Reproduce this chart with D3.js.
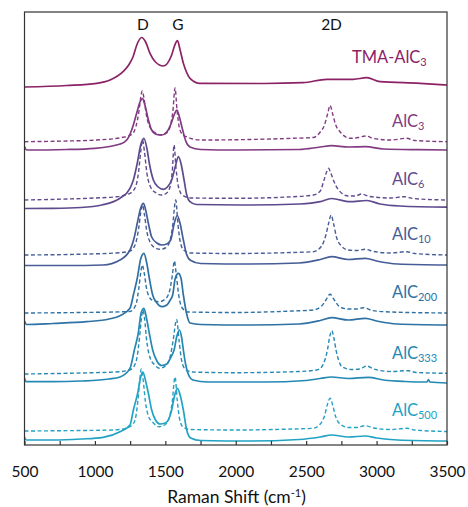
<!DOCTYPE html>
<html>
<head>
<meta charset="utf-8">
<script src="https://cdn.jsdelivr.net/npm/d3@7"></script>
<style>
  body { margin: 0; background: #fff; }
  svg { display: block; font-family: Lato, "Open Sans", sans-serif; }
</style>
</head>
<body>
<svg width="468" height="507"></svg>
<script>
// sample names (main part + subscript)
const sampleMain = ["TMA-AlC", "AlC", "AlC", "AlC", "AlC", "AlC", "AlC"];
const sampleSub = ["3", "3", "6", "10", "200", "333", "500"];
const sampleColors = ["#8c2266", "#823b82", "#5f4a8e", "#465d97", "#2e72a5", "#2589b4", "#22a2c4"];

// stacking offsets (a.u.)
const solidOffset = [357, 295, 236, 179, 120, 62, 4];
const dashedOffset = [null, 303, 245, 190, 132, 71, 14];

// peak labels
const peakNames = ["D", "G", "2D"];
const peakPos = [1340, 1590, 2680];

const xTicks = [500, 750, 1000, 1250, 1500, 1750, 2000, 2250, 2500, 2750, 3000, 3250, 3500];

// solid spectra [Raman shift, intensity]
const solidTMA = [[500,1],[800,2.5],[1013,4.7],[1107,8],[1200,16.3],[1240,23],[1271,31.3],[1300,44],[1332,50.5],[1360,46],
  [1391,34.7],[1430,26],[1486,22],[1545,33],[1565,42],[1586,47.3],[1605,38],[1628,24.7],[1650,16],[1675,9.7],[1746,4.7],
  [2200,4.5],[2478,5.3],[2646,8.7],[2834,8.7],[2930,10.3],[3025,6.3],[3309,4.7],[3500,3]];
const solidAlC3 = [[500,3.5],[515,0],[800,0.5],[1000,1.7],[1180,6],[1226,10],[1261,20],[1297,37],[1320,48],[1338,51.5],
  [1355,45],[1380,30],[1403,20],[1440,15.5],[1474,15],[1510,18],[1540,26],[1565,36],[1582,40],[1600,33],[1623,20],
  [1645,9],[1675,3],[1750,0.5],[2000,0],[2450,0.5],[2600,3],[2680,4.3],[2800,3],[2923,3.3],[3050,1],[3300,0.3],[3500,0]];
const solidAlC6 = [[500,0.5],[700,0.7],[900,1.5],[1050,4],[1178,10.7],[1249,20.7],[1273,29],[1301,46],[1325,64],[1348,70.7],
  [1370,60],[1386,46],[1415,29],[1450,22],[1485,19.7],[1515,22],[1545,29],[1570,42],[1593,52.3],[1612,45],[1633,29],
  [1652,14],[1675,7.3],[1720,4.5],[2100,4],[2456,5],[2600,7.3],[2680,10.5],[2812,7.3],[2930,8.5],[3024,5],[3166,3],[3500,1.8]];
const solidAlC10 = [[500,0.5],[800,0.5],[1058,1],[1178,6],[1249,16],[1280,29],[1301,43],[1325,58],[1345,62.7],[1362,55],
  [1379,43],[1403,29],[1440,23],[1475,21],[1510,22],[1538,26],[1564,43],[1585,50.5],[1604,43],[1628,26],[1650,12],
  [1675,6],[1750,2.5],[2100,2],[2450,3],[2600,6.5],[2680,9.3],[2800,6.5],[2920,7.7],[3000,5],[3150,2],[3500,1]];
const solidAlC200 = [[500,4],[515,0.5],[700,1.5],[941,3.3],[1100,6],[1178,9.3],[1249,16.7],[1273,30],[1301,47],[1325,66],
  [1348,71.7],[1368,62],[1386,47],[1410,30],[1440,22],[1475,18.3],[1510,20],[1535,25],[1552,30],[1571,47],[1593,51.7],
  [1611,47],[1628,30],[1650,12],[1675,2],[1750,0.5],[2100,0],[2450,1],[2600,4.5],[2680,7.3],[2800,5],[2920,6.7],
  [3000,4],[3150,1],[3500,0]];
const solidAlC333 = [[500,5],[512,1.3],[700,1.3],[900,2],[1100,4],[1178,6],[1249,14.7],[1280,33],[1308,50],[1328,70],
  [1348,74.7],[1366,65],[1386,50],[1410,33],[1440,22],[1475,17.5],[1510,19],[1540,26],[1562,33],[1582,47],[1600,53],
  [1615,46],[1628,33],[1645,18],[1665,8],[1696,3],[1800,1],[2200,1],[2500,2.5],[2600,4.5],[2680,6],[2800,4.5],
  [2940,5.7],[3050,3],[3200,1.5],[3358,1],[3368,3.5],[3378,1],[3500,0]];
const solidAlC500 = [[500,4],[512,1],[700,1],[900,2],[1058,3.7],[1178,9.3],[1249,16],[1273,31],[1304,48],[1325,64],
  [1341,69],[1360,60],[1379,48],[1403,31],[1430,21],[1462,17],[1500,18],[1525,22],[1545,31],[1565,45],[1586,52.7],
  [1605,46],[1628,31],[1650,12],[1680,3],[1750,0.5],[2100,0],[2450,1.5],[2600,4],[2680,6],[2800,4],[2920,5],
  [3000,3],[3150,1],[3500,0]];

// dashed spectra [Raman shift, intensity]
const dashedAlC3 = [[500,0.3],[800,1],[1013,2],[1200,4.7],[1265,8],[1290,15],[1312,30],[1326,45],[1336,51],[1348,44],
  [1364,28],[1390,15],[1430,9],[1474,7],[1510,9],[1535,16],[1553,30],[1569,54],[1583,32],[1600,14],[1625,7],[1650,5.3],
  [1746,2],[2100,2.5],[2405,3.7],[2550,4.5],[2600,10],[2630,17],[2652,28],[2670,36.5],[2688,28],[2710,17],[2742,10],
  [2813,3.7],[2870,4.5],[2923,6],[2980,3.5],[3100,2],[3214,3.7],[3270,1.5],[3500,0.3]];
const dashedAlC6 = [[500,0],[800,1],[1000,2],[1155,3.3],[1249,6.7],[1285,12],[1310,28],[1325,48],[1338,60],[1352,48],
  [1368,28],[1395,13],[1435,7],[1474,5],[1510,7],[1535,14],[1550,30],[1562,55],[1575,33],[1592,14],[1620,5],[1680,2],
  [2000,1.7],[2409,3.3],[2551,5],[2600,9],[2627,20],[2645,28],[2658,31.7],[2675,27],[2693,20],[2730,10],[2800,4],
  [2850,4],[2894,6],[2950,3.5],[3100,2],[3195,3.3],[3260,1.5],[3500,0]];
const dashedAlC10 = [[500,0],[900,0.8],[1178,2.3],[1249,4],[1285,10],[1310,26],[1325,42],[1338,50],[1352,40],[1368,24],
  [1395,12],[1430,7],[1462,5.7],[1500,7],[1530,13],[1550,27],[1574,55],[1590,30],[1605,14],[1630,5],[1680,2],[2000,1.5],
  [2400,2.5],[2549,3.3],[2610,9],[2640,20],[2660,32],[2677,40],[2695,31],[2715,18],[2750,9],[2800,5],[2860,4.5],
  [2918,5.7],[2980,3.5],[3100,2],[3214,3.3],[3270,1.5],[3500,0]];
const dashedAlC200 = [[500,0],[900,0.5],[1249,1.5],[1290,8],[1312,25],[1325,40],[1336,48],[1350,40],[1366,25],[1390,15],
  [1420,12],[1456,11.3],[1500,14],[1530,22],[1550,38],[1564,52],[1578,38],[1595,18],[1620,5],[1660,1],[2000,0.5],
  [2400,2],[2550,3],[2610,7],[2640,13],[2670,18.7],[2700,13],[2740,6],[2800,4],[2860,4],[2906,5.3],[2970,2.5],
  [3100,1],[3500,0]];
const dashedAlC333 = [[500,0],[900,1],[1178,2.3],[1260,5],[1295,14],[1318,38],[1332,58],[1341,64],[1352,56],[1368,33],
  [1390,17],[1425,9],[1462,5.7],[1500,8],[1530,15],[1555,33],[1580,54.5],[1598,33],[1615,14],[1640,5],[1690,2],
  [2000,1.3],[2450,2.5],[2575,4],[2611,7.3],[2635,15],[2651,24],[2668,38],[2682,43.3],[2697,36],[2712,24],[2730,14],
  [2753,7.3],[2820,4.5],[2880,5],[2930,8],[2980,5],[3100,2.5],[3223,3.3],[3280,1.5],[3500,0.7]];
const dashedAlC500 = [[500,0],[900,0.5],[1129,1],[1230,3],[1280,9],[1305,30],[1318,50],[1329,62],[1342,52],[1358,30],
  [1380,15],[1415,8],[1456,4.3],[1495,6],[1525,12],[1548,28],[1569,54],[1585,30],[1600,13],[1625,4],[1680,1.5],
  [2000,1],[2400,2],[2549,2.7],[2600,7],[2630,15],[2652,27],[2670,32.7],[2688,26],[2708,15],[2740,7],[2800,3.5],
  [2860,3.5],[2918,5.3],[2980,3],[3100,1.5],[3214,2.7],[3270,1],[3500,-0.5]];

const solidSpectra = [solidTMA, solidAlC3, solidAlC6, solidAlC10, solidAlC200, solidAlC333, solidAlC500];
const dashedSpectra = [null, dashedAlC3, dashedAlC6, dashedAlC10, dashedAlC200, dashedAlC333, dashedAlC500];

const svg = d3.select("svg");
const width = 468, height = 507;
const margin = {top: 12, right: 21, bottom: 62, left: 24.5};

const x = d3.scaleLinear().domain([500, 3500]).range([margin.left, width - margin.right]);
const y = d3.scaleLinear().domain([0, 433]).range([height - margin.bottom, margin.top]);

svg.append("clipPath").attr("id", "plotclip")
  .append("rect")
  .attr("x", margin.left).attr("y", margin.top)
  .attr("width", width - margin.left - margin.right)
  .attr("height", height - margin.top - margin.bottom);

const plot = svg.append("g").attr("clip-path", "url(#plotclip)");

samples = sampleMain.map((m, i) => i);
samples.forEach(function(i) {
  if (dashedSpectra[i]) {
    let line = d3.line()
      .x(d => x(d[0]))
      .y(d => y(dashedOffset[i] + d[1]))
      .curve(d3.curveMonotoneX);
    plot.append("path")
      .attr("d", line(dashedSpectra[i]))
      .attr("fill", "none")
      .attr("stroke", sampleColors[i])
      .attr("stroke-width", 1.4)
      .attr("stroke-dasharray", "4,2.5");
  }
  let line = d3.line()
    .x(d => x(d[0]))
    .y(d => y(solidOffset[i] + d[1]))
    .curve(d3.curveMonotoneX);
  plot.append("path")
    .attr("d", line(solidSpectra[i]))
    .attr("fill", "none")
    .attr("stroke", sampleColors[i])
    .attr("stroke-width", 1.7);

  // sample label
  let lx = i == 0 ? x(2825) : x(3110);
  let ly = i == 0 ? y(solidOffset[i] + 25) : y(dashedOffset[i] + 15);
  let t = svg.append("text")
    .attr("x", lx).attr("y", ly)
    .attr("fill", sampleColors[i])
    .style("font-size", "16.5px");
  t.append("tspan").text(sampleMain[i]);
  t.append("tspan").attr("dy", 3).style("font-size", "11px").text(sampleSub[i]);
});

// frame
svg.append("rect")
  .attr("x", margin.left).attr("y", margin.top)
  .attr("width", width - margin.left - margin.right)
  .attr("height", height - margin.top - margin.bottom)
  .attr("fill", "none")
  .attr("stroke", "#333")
  .attr("stroke-width", 1.2);

// x axis
const xAxis = svg.append("g")
  .attr("transform", `translate(0,${height - margin.bottom})`)
  .call(d3.axisBottom(x)
    .tickValues(xTicks)
    .tickSize(-4)
    .tickPadding(21)
    .tickFormat(d => d % 500 === 0 ? d : ""));
xAxis.select(".domain").remove();
xAxis.selectAll(".tick line").attr("stroke", "#333").attr("stroke-width", 1.2);
xAxis.selectAll(".tick text")
  .attr("fill", "#111")
  .style("font-family", "Lato, sans-serif")
  .style("font-size", "15.5px");

// axis title
const title = svg.append("text")
  .attr("x", 236.5).attr("y", 503)
  .attr("text-anchor", "middle")
  .attr("fill", "#111")
  .style("font-size", "17.5px");
title.append("tspan").text("Raman Shift (cm");
title.append("tspan").attr("dy", -6).style("font-size", "11px").text("-1");
title.append("tspan").attr("dy", 6).text(")");

// peak labels
svg.selectAll("text.peak")
  .data(peakNames)
  .enter()
  .append("text")
  .attr("class", "peak")
  .attr("x", (d, i) => x(peakPos[i]))
  .attr("y", y(415))
  .attr("text-anchor", "middle")
  .attr("fill", "#111")
  .style("font-size", "15.5px")
  .text(d => d);
</script>
</body>
</html>
